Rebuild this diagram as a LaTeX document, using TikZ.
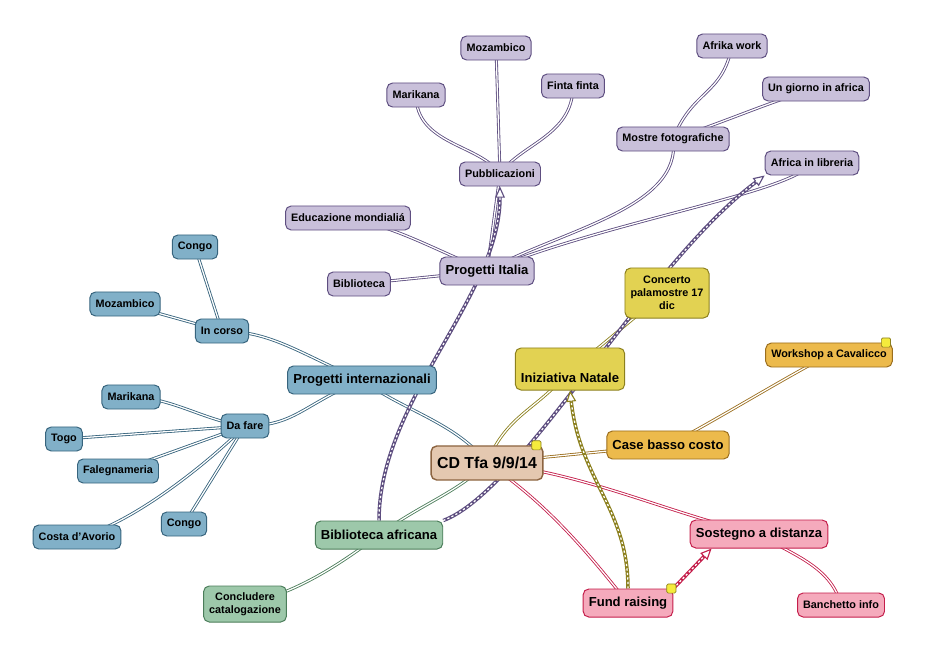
\documentclass[tikz,border=0pt]{standalone}
\usepackage{fontspec}
\setmainfont{Liberation Sans}
\usetikzlibrary{arrows.meta,backgrounds}

\definecolor{purplefill}{RGB}{201,192,218}
\definecolor{purpleline}{RGB}{94,78,128}
\definecolor{bluefill}{RGB}{129,176,200}
\definecolor{blueline}{RGB}{55,100,125}
\definecolor{brownfill}{RGB}{228,200,176}
\definecolor{brownline}{RGB}{140,100,65}
\definecolor{yellowfill}{RGB}{226,210,82}
\definecolor{yellowline}{RGB}{140,128,30}
\definecolor{orangefill}{RGB}{236,186,76}
\definecolor{orangeline}{RGB}{155,110,30}
\definecolor{greenfill}{RGB}{157,200,170}
\definecolor{greenline}{RGB}{75,125,90}
\definecolor{pinkfill}{RGB}{245,170,188}
\definecolor{pinkline}{RGB}{196,30,75}
\definecolor{notefill}{RGB}{245,235,60}

\tikzset{
  topic/.style={draw=#1line, fill=#1fill, line width=0.7pt, rounded corners=4pt,
    inner xsep=0.14cm, inner ysep=0pt, minimum height=0.6cm, text=black,
    font=\bfseries\fontsize{7.7}{9.2}\selectfont},
  maintopic/.style={topic=#1, minimum height=0.7cm,
    font=\bfseries\fontsize{9.3}{11}\selectfont},
  centraltopic/.style={topic=brown, minimum height=0.85cm, inner xsep=0.15cm,
    line width=1pt, font=\bfseries\fontsize{11.3}{13}\selectfont},
  notemark/.style={draw=yellowline, fill=notefill, line width=0.5pt,
    rounded corners=1pt, minimum size=0.23cm, inner sep=0pt},
  branch/.style={draw=#1line, line width=0.6pt, double=white, double distance=0.9pt},
  crosslink/.style={draw=#1line, line width=2.5pt,
    -{Triangle[length=8pt,width=7pt,line width=0.8pt,fill=white]},
    postaction={draw=white, line width=0.9pt, dash pattern=on 1.6pt off 1.6pt, -, shorten >=7pt}}
}

\begin{document}
\begin{tikzpicture}[x=0.025cm,y=-0.025cm]%
\useasboundingbox (0,0) rectangle (928,657);%
\node[centraltopic] (cd) at (487,463) {CD Tfa 9/9/14};%
\node[maintopic=purple] (pit) at (487,271) {Progetti Italia};%
\node[maintopic=blue] (pint) at (362,380) {Progetti internazionali};%
\node[maintopic=green] (bibafr) at (379,535) {Biblioteca africana};%
\node[maintopic=yellow, minimum height=1.05cm, text height=20pt, text depth=0.5pt] (natale) at (570,369) {Iniziativa Natale};%
\node[maintopic=orange] (casa) at (668,445) {Case basso costo};%
\node[maintopic=pink] (sostegno) at (759,534) {Sostegno a distanza};%
\node[maintopic=pink] (fund) at (628,603) {Fund raising};%
\node[topic=purple] (pub) at (500,174) {Pubblicazioni};%
\node[topic=purple] (mozpub) at (496,48) {Mozambico};%
\node[topic=purple] (marpub) at (416,95) {Marikana};%
\node[topic=purple] (finta) at (573,86) {Finta finta};%
\node[topic=purple] (mostre) at (673,139) {Mostre fotografiche};%
\node[topic=purple] (afrika) at (732,46) {Afrika work};%
\node[topic=purple] (giorno) at (816,89) {Un giorno in africa};%
\node[topic=purple] (libreria) at (812,163) {Africa in libreria};%
\node[topic=purple] (educ) at (348,218) {Educazione mondialiá};%
\node[topic=purple] (bibl) at (359,284) {Biblioteca};%
\node[topic=blue] (incorso) at (222,331) {In corso};%
\node[topic=blue] (congoa) at (195,247) {Congo};%
\node[topic=blue] (mozint) at (125,304) {Mozambico};%
\node[topic=blue] (dafare) at (245,426) {Da fare};%
\node[topic=blue] (marint) at (131,397) {Marikana};%
\node[topic=blue] (togo) at (64,439) {Togo};%
\node[topic=blue] (faleg) at (118,471) {Falegnameria};%
\node[topic=blue] (costa) at (77,537) {Costa d'Avorio};%
\node[topic=blue] (congob) at (184,524) {Congo};%
\node[topic=yellow, minimum height=1.25cm, align=center] (concerto) at (667,293) {Concerto\\palamostre 17\\dic};%
\node[topic=orange] (workshop) at (829,355) {Workshop a Cavalicco};%
\node[topic=green, minimum height=0.9cm, align=center] (concl) at (245,604) {Concludere\\catalogazione};%
\node[topic=pink] (banch) at (841,605) {Banchetto info};%
\node[notemark] (cdnote) at ([xshift=-0.18cm]cd.north east) {};%
\node[notemark] (worknote) at ([xshift=-0.17cm]workshop.north east) {};%
\node[notemark] (fundnote) at ([xshift=-0.05cm]fund.north east) {};%
\begin{scope}[on background layer]%
\draw[branch=purple] (cd.center) -- (pit.center);%
\draw[branch=blue] (cd.center) .. controls +(-30,-40) and +(40,30) .. (pint.center);%
\draw[branch=green] (cd.center) .. controls +(-30,30) and +(40,-30) .. (bibafr.center);%
\draw[branch=yellow] (cd.center) .. controls +(20,-50) and +(-30,40) .. (natale.center);%
\draw[branch=orange] (cd.center) -- (casa.center);%
\draw[branch=pink] (cd.center) .. controls +(100,10) and +(-90,-20) .. (sostegno.center);%
\draw[branch=pink] (cd.center) .. controls +(60,40) and +(-40,-50) .. (fund.center);%
\draw[branch=purple] (pit.center) -- (pub.center);%
\draw[branch=purple] (pit.center) .. controls +(-60,-25) and +(50,10) .. (educ.center);%
\draw[branch=purple] (pit.center) -- (bibl.center);%
\draw[branch=purple] (pit.center) .. controls +(70,-40) and +(10,70) .. (mostre.center);%
\draw[branch=purple] (pit.center) .. controls +(120,-50) and +(-20,30) .. (libreria.center);%
\draw[branch=purple] (pub.center) -- (mozpub.center);%
\draw[branch=purple] (pub.center) .. controls +(-20,-30) and +(0,50) .. (marpub.center);%
\draw[branch=purple] (pub.center) .. controls +(20,-30) and +(0,50) .. (finta.center);%
\draw[branch=purple] (mostre.center) .. controls +(20,-50) and +(-10,50) .. (afrika.center);%
\draw[branch=purple] (mostre.center) .. controls +(60,-20) and +(-40,10) .. (giorno.center);%
\draw[branch=blue] (pint.center) .. controls +(-60,-25) and +(50,0) .. (incorso.center);%
\draw[branch=blue] (pint.center) .. controls +(-60,25) and +(50,0) .. (dafare.center);%
\draw[branch=blue] (incorso.center) -- (congoa.center);%
\draw[branch=blue] (incorso.center) -- (mozint.center);%
\draw[branch=blue] (dafare.center) .. controls +(-40,-5) and +(40,0) .. (marint.center);%
\draw[branch=blue] (dafare.center) -- (togo.center);%
\draw[branch=blue] (dafare.center) .. controls +(-30,10) and +(30,-10) .. (faleg.center);%
\draw[branch=blue] (dafare.center) .. controls +(-40,40) and +(50,-10) .. (costa.center);%
\draw[branch=blue] (dafare.center) -- (congob.center);%
\draw[branch=yellow] (natale.center) .. controls +(30,-20) and +(-30,20) .. (concerto.center);%
\draw[branch=orange] (casa.center) .. controls +(40,-20) and +(-40,20) .. (workshop.center);%
\draw[branch=green] (bibafr.center) .. controls +(-40,30) and +(50,-10) .. (concl.center);%
\draw[branch=pink] (sostegno.center) .. controls +(30,20) and +(-10,-40) .. (banch.center);%
\draw[crosslink=purple] (bibafr.north) .. controls +(0,-120) and +(0,110) .. (pub.south);%
\draw[crosslink=purple] (bibafr.north east) .. controls +(80,-30) and +(-120,90) .. (libreria.south west);%
\draw[crosslink=yellow] (fund.north) .. controls +(0,-80) and +(10,90) .. (natale.south);%
\draw[crosslink=pink] (fund.north east) -- (sostegno.197);%
\end{scope}%
\end{tikzpicture}
\end{document}
